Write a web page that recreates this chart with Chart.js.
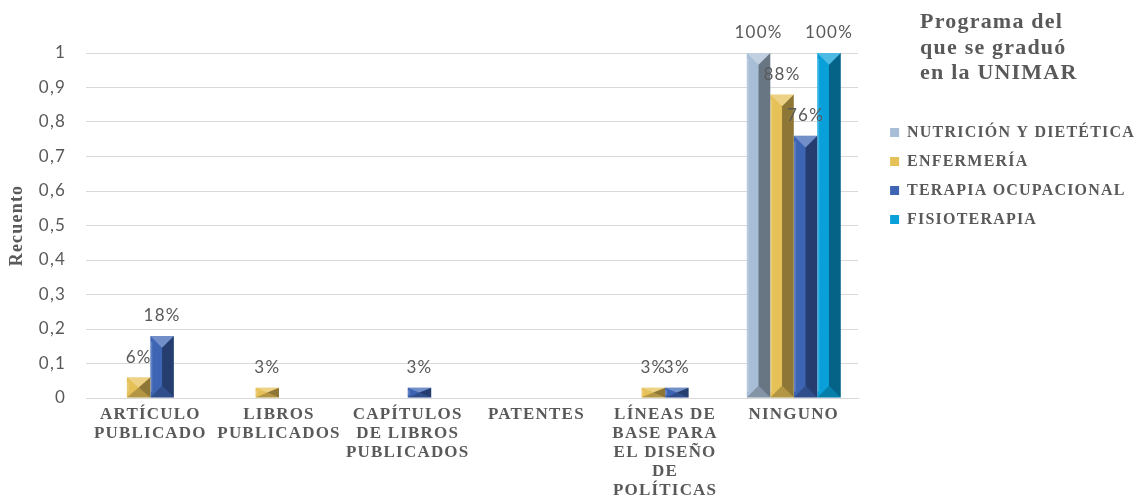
<!DOCTYPE html>
<html>
<head>
<meta charset="utf-8">
<script src="https://cdn.jsdelivr.net/npm/chart.js@4.4.1/dist/chart.umd.min.js"></script>
<style>
  html, body { margin: 0; padding: 0; background: #fff; }
  #wrap { width: 1145px; height: 498px; }
</style>
</head>
<body>
<div id="wrap"><canvas id="chart"></canvas></div>
<script>
// --- data ---
const categories = [
  ['ARTÍCULO', 'PUBLICADO'],
  ['LIBROS', 'PUBLICADOS'],
  ['CAPÍTULOS', 'DE LIBROS', 'PUBLICADOS'],
  ['PATENTES'],
  ['LÍNEAS DE', 'BASE PARA', 'EL DISEÑO', 'DE', 'POLÍTICAS'],
  ['NINGUNO']
];
const seriesNames = ['NUTRICIÓN Y DIETÉTICA', 'ENFERMERÍA', 'TERAPIA OCUPACIONAL', 'FISIOTERAPIA'];
const nutricion    = [0,    0,    0,    0, 0,    1];
const enfermeria   = [0.06, 0.03, 0,    0, 0.03, 0.88];
const terapia      = [0.18, 0,    0.03, 0, 0.03, 0.76];
const fisioterapia = [0,    0,    0,    0, 0,    1];
const legendTitle = ['Programa del', 'que se graduó', 'en la UNIMAR'];
const yTitle = 'Recuento';

const seriesColors = ['#a8bed6', '#e6c158', '#3e65b4', '#09a0da'];
const TEXT = '#595959';
const SERIF = "'Liberation Serif', 'Times New Roman', serif";
const SANS = "Lato, 'Open Sans', sans-serif";

// --- the reference text looks a little stretched, so space the letters ---
const letterSpacing = {
  id: 'letterSpacing',
  beforeUpdate(chart) { chart.ctx.letterSpacing = '1.2px'; },
  beforeDraw(chart) { chart.ctx.letterSpacing = '1.2px'; }
};

// --- bevelled "pyramid" look of the bars ---
const bevel = {
  id: 'bevel',
  afterDatasetsDraw(chart) {
    const ctx = chart.ctx;
    ctx.save();
    chart.data.datasets.forEach((ds, i) => {
      chart.getDatasetMeta(i).data.forEach(el => {
        const w = el.width;
        const top = Math.min(el.y, el.base), bot = Math.max(el.y, el.base);
        const h = bot - top;
        if (h < 1) return;
        const l = el.x - w / 2, r = el.x + w / 2, cx = el.x;
        const d = Math.min(w / 2, h / 2);
        // right facet
        ctx.fillStyle = 'rgba(0,0,0,0.38)';
        ctx.beginPath();
        ctx.moveTo(r, top); ctx.lineTo(cx, top + d); ctx.lineTo(cx, bot - d); ctx.lineTo(r, bot);
        ctx.closePath(); ctx.fill();
        // top facet
        ctx.fillStyle = 'rgba(255,255,255,0.28)';
        ctx.beginPath();
        ctx.moveTo(l, top); ctx.lineTo(r, top); ctx.lineTo(cx, top + d);
        ctx.closePath(); ctx.fill();
        // bottom facet
        ctx.fillStyle = 'rgba(0,0,0,0.22)';
        ctx.beginPath();
        ctx.moveTo(l, bot); ctx.lineTo(r, bot); ctx.lineTo(cx, bot - d);
        ctx.closePath(); ctx.fill();
        // thin highlight on the left edge
        ctx.fillStyle = 'rgba(255,255,255,0.18)';
        ctx.fillRect(l, top + d / 2, 2, h - d);
      });
    });
    ctx.restore();
  }
};

// --- percentage labels above the non-zero bars ---
const barLabels = {
  id: 'barLabels',
  afterDatasetsDraw(chart) {
    const ctx = chart.ctx;
    ctx.save();
    ctx.font = '17px ' + SANS;
    ctx.fillStyle = TEXT;
    ctx.textAlign = 'center';
    ctx.textBaseline = 'middle';
    chart.data.datasets.forEach((ds, i) => {
      chart.getDatasetMeta(i).data.forEach((el, j) => {
        const v = ds.data[j];
        if (!v) return;
        ctx.fillText(Math.round(v * 100) + '%', el.x, el.y - 20);
      });
    });
    ctx.restore();
  }
};

// --- three-line legend title, left aligned ---
const legendHeading = {
  id: 'legendHeading',
  afterDraw(chart) {
    const ctx = chart.ctx;
    ctx.save();
    ctx.font = 'bold 22px ' + SERIF;
    ctx.fillStyle = TEXT;
    ctx.textAlign = 'left';
    ctx.textBaseline = 'alphabetic';
    legendTitle.forEach((line, i) => ctx.fillText(line, chart.legend.left + 43, 28 + i * 25.5));
    ctx.restore();
  }
};

const seriesData = [nutricion, enfermeria, terapia, fisioterapia];

new Chart(document.getElementById('chart'), {
  type: 'bar',
  data: {
    labels: categories,
    datasets: seriesNames.map((name, i) => ({
      label: name,
      data: seriesData[i],
      backgroundColor: seriesColors[i],
      borderWidth: 0,
      xAxisID: 'x',
      yAxisID: 'y'
    }))
  },
  options: {
    responsive: true,
    maintainAspectRatio: false,
    animation: false,
    layout: { padding: { top: 10, left: 0, right: 0, bottom: 0 } },
    datasets: { bar: { barPercentage: 1, categoryPercentage: 0.73 } },
    plugins: {
      tooltip: { enabled: false },
      legend: {
        position: 'right',
        align: 'start',
        labels: {
          font: { family: SERIF, size: 16, weight: 'bold' },
          color: TEXT,
          boxWidth: 9,
          boxHeight: 9,
          padding: 13
        },
        title: { display: true, text: '', font: { size: 1, lineHeight: 1 }, padding: { top: 0, bottom: 100.5 } }
      }
    },
    scales: {
      x: {
        type: 'category',
        grid: { display: false, drawTicks: false },
        border: { color: '#d9d9d9' },
        ticks: {
          font: { family: SERIF, size: 17, weight: 'bold', lineHeight: 1.12 },
          color: TEXT,
          padding: 7,
          maxRotation: 0,
          autoSkip: false
        },
        afterFit: s => { s.height = 100; }
      },
      y: {
        min: 0,
        max: 1,
        ticks: {
          stepSize: 0.1,
          padding: 20,
          font: { family: SANS, size: 17 },
          color: TEXT,
          callback: v => String(Math.round(v * 10) / 10).replace('.', ',')
        },
        grid: { color: '#d9d9d9', drawTicks: false },
        border: { display: false },
        title: {
          display: true,
          text: yTitle,
          font: { family: SERIF, size: 18, weight: 'bold' },
          color: TEXT,
          padding: { top: 7, bottom: 0 }
        },
        afterFit: s => { s.width = 86; }
      },
      x2: {
        type: 'category',
        position: 'top',
        grid: { display: false },
        border: { display: false },
        ticks: { display: false },
        afterFit: s => { s.height = 43; }
      },
      // hidden spacer between the plot and the legend
      y2: {
        type: 'linear',
        position: 'right',
        display: false,
        afterFit: s => { s.width = 19; }
      }
    }
  },
  plugins: [letterSpacing, bevel, barLabels, legendHeading]
});
</script>
</body>
</html>
